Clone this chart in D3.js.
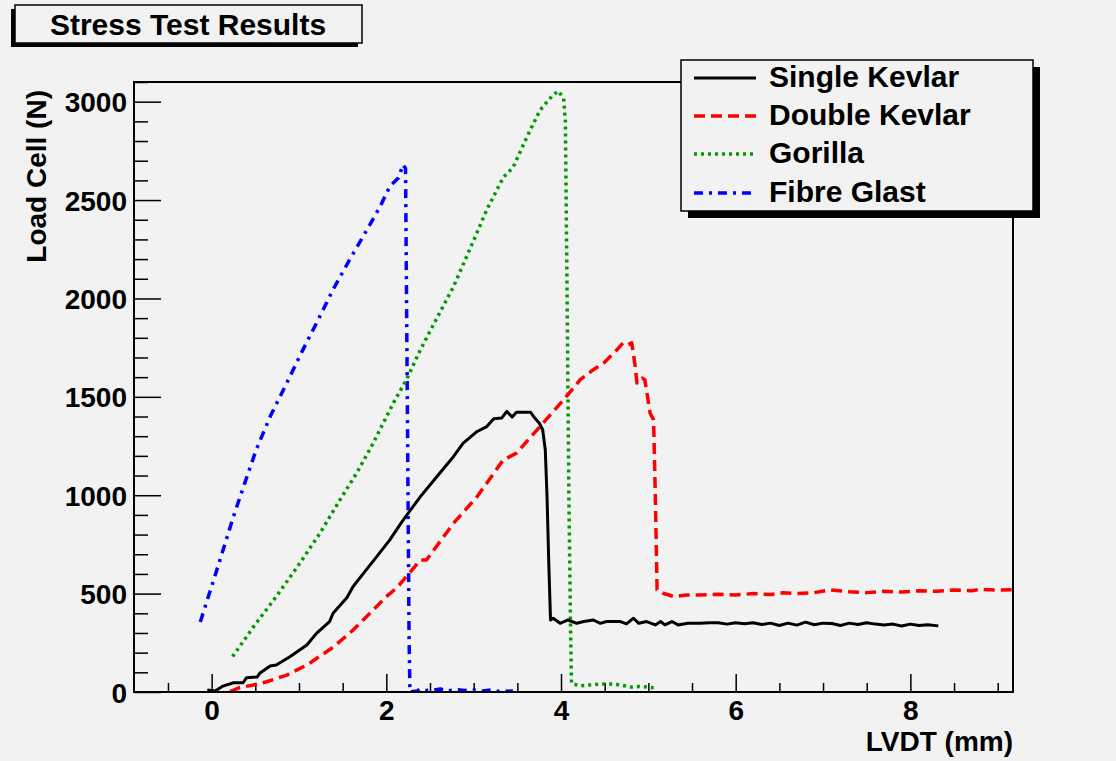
<!DOCTYPE html>
<html>
  <head>
    <meta charset="utf-8">
    <title>Stress Test Results</title>
    <script src="https://d3js.org/d3.v7.min.js"></script>
    <style>
      html, body { margin: 0; padding: 0; background: #f2f2f2; }
      svg { display: block; font-family: "Liberation Sans", Arial, sans-serif; font-weight: bold; }
    </style>
  </head>
  <body>
    <div id="chart"></div>

    <script>
      // Series values (LVDT in mm, load in N)
      const singleX = [-0.05, 0.04, 0.13, 0.25, 0.36, 0.40, 0.52, 0.55, 0.67, 0.74, 0.90, 1.09, 1.20, 1.35, 1.39,
        1.55, 1.62, 1.74, 1.89, 2.04, 2.18, 2.39, 2.58, 2.77, 2.88, 3.04, 3.15, 3.23, 3.32, 3.38, 3.44, 3.49,
        3.65, 3.70, 3.75, 3.79, 3.82, 3.84, 3.86, 3.88, 3.91, 3.99, 4.08, 4.18, 4.26, 4.37, 4.45, 4.52, 4.68,
        4.75, 4.83, 4.89, 4.98, 5.08, 5.14, 5.19, 5.27, 5.34, 5.45, 5.59, 5.7, 5.8, 5.9, 6.0, 6.1, 6.2, 6.3,
        6.4, 6.5, 6.6, 6.7, 6.8, 6.9, 7.0, 7.1, 7.2, 7.3, 7.4, 7.5, 7.6, 7.7, 7.8, 7.9, 8.0, 8.1, 8.2, 8.32];
      const singleY = [10, 5, 30, 47, 47, 73, 76, 95, 132, 137, 180, 239, 298, 358, 400,
        480, 536, 604, 688, 773, 866, 993, 1095, 1197, 1265, 1324, 1349, 1389, 1392, 1426, 1397, 1422,
        1422, 1392, 1367, 1333, 1231, 993, 655, 366, 375, 349, 366, 349, 358, 366, 349, 358, 358,
        346, 375, 349, 358, 341, 358, 341, 358, 341, 349, 349, 352, 352, 345, 352, 347, 352, 343,
        350, 338, 350, 340, 355, 342, 350, 348, 338, 350, 343, 352, 345, 340, 345, 335, 345, 338, 342, 336];

      const doubleX = [0.21, 0.32, 0.48, 0.63, 0.86, 1.09, 1.39, 1.62, 1.85, 2.0, 2.12, 2.23, 2.39, 2.46, 2.77,
        3.04, 3.34, 3.49, 3.76, 4.03, 4.22, 4.37, 4.49, 4.64, 4.71, 4.77, 4.81, 4.85, 4.87, 4.93, 4.96, 5.02,
        5.06, 5.08, 5.10, 5.17, 5.29, 5.44, 5.59, 5.8, 6.0, 6.2, 6.4, 6.54, 6.7, 6.9, 7.08, 7.3, 7.5, 7.7,
        7.9, 8.1, 8.3, 8.5, 8.7, 8.8, 9.0, 9.17];
      const doubleY = [2, 22, 36, 52, 86, 137, 227, 315, 417, 485, 530, 586, 671, 671, 858,
        993, 1180, 1214, 1349, 1485, 1587, 1638, 1672, 1739, 1774, 1765, 1774, 1654, 1570, 1595, 1587, 1417,
        1383, 993, 519, 502, 485, 493, 493, 497, 493, 500, 495, 504, 500, 505, 519, 510, 505, 512,
        508, 515, 512, 518, 515, 522, 518, 520];

      const gorillaX = [0.24, 0.48, 0.74, 1.01, 1.24, 1.47, 1.66, 1.85, 2.08, 2.23, 2.39, 2.54, 2.77, 3.00, 3.15,
        3.34, 3.45, 3.61, 3.76, 3.91, 3.97, 4.03, 4.05, 4.07, 4.09, 4.11, 4.12, 4.22, 4.33, 4.45, 4.56, 4.68,
        4.80, 4.90, 5.06];
      const gorillaY = [180, 332, 485, 655, 807, 977, 1112, 1265, 1468, 1587, 1739, 1867, 2061, 2295, 2451,
        2616, 2665, 2821, 2957, 3035, 3054, 3016, 2900, 2000, 1000, 300, 44, 31, 36, 41, 41, 36,
        25, 28, 22];

      const glastX = [-0.13, 0.09, 0.25, 0.38, 0.51, 0.67, 0.86, 1.03, 1.21, 1.39, 1.58, 1.79, 1.93, 2.04, 2.14,
        2.19, 2.22, 2.24, 2.26, 2.27, 2.35, 2.39, 2.45, 2.55, 2.62, 2.70, 2.80, 2.90, 3.00, 3.10, 3.20, 3.30, 3.45];
      const glastY = [356, 663, 892, 1063, 1231, 1400, 1570, 1726, 1883, 2045, 2197, 2358, 2468, 2570, 2613,
        2680, 2660, 1500, 300, 0, 5, 15, 8, 10, 15, 5, 12, 8, 10, 5, 10, 3, 5];

      const seriesNames = ['Single Kevlar', 'Double Kevlar', 'Gorilla', 'Fibre Glast'];
      const xMajorTicks = [0, 2, 4, 6, 8];
      const yMajorTicks = [0, 500, 1000, 1500, 2000, 2500, 3000];

      const W = 1116, H = 761;
      const frame = { left: 134, top: 82, right: 1013, bottom: 692 };

      const x = d3.scaleLinear().domain([-0.889, 9.175]).range([frame.left, frame.right]);
      const y = d3.scaleLinear().domain([0, 3100]).range([frame.bottom, frame.top]);

      const svg = d3.select('#chart').append('svg')
        .attr('width', W)
        .attr('height', H);

      svg.append('rect').attr('width', W).attr('height', H).attr('fill', '#f2f2f2');

      svg.append('clipPath').attr('id', 'plotclip')
        .append('rect')
        .attr('x', frame.left).attr('y', frame.top)
        .attr('width', frame.right - frame.left).attr('height', frame.bottom - frame.top);

      // Axes (ROOT style: ticks point into the frame)
      const xMinor = d3.range(-0.5, 9.01, 0.5).filter(v => !xMajorTicks.includes(v));
      const yMinor = d3.range(0, 3101, 100).filter(v => !yMajorTicks.includes(v));

      function styleAxis(g) {
        g.select('.domain').remove();
        g.selectAll('line').attr('stroke', '#000').attr('stroke-width', 1.5);
        g.selectAll('text').attr('fill', '#000').attr('font-size', 28).attr('font-weight', 'bold');
      }

      svg.append('g')
        .attr('transform', `translate(0,${frame.bottom})`)
        .call(d3.axisBottom(x).tickValues(xMinor).tickSize(-9).tickFormat(''))
        .call(styleAxis);
      svg.append('g')
        .attr('transform', `translate(0,${frame.bottom})`)
        .call(d3.axisBottom(x).tickValues(xMajorTicks).tickSize(-18).tickPadding(8).tickFormat(d3.format('d')))
        .call(styleAxis)
        .selectAll('text').attr('dy', '0.71em');

      svg.append('g')
        .attr('transform', `translate(${frame.left},0)`)
        .call(d3.axisLeft(y).tickValues(yMinor).tickSize(-14).tickFormat(''))
        .call(styleAxis);
      svg.append('g')
        .attr('transform', `translate(${frame.left},0)`)
        .call(d3.axisLeft(y).tickValues(yMajorTicks).tickSize(-27).tickPadding(7).tickFormat(d3.format('d')))
        .call(styleAxis)
        .selectAll('text').attr('dy', '0.36em');

      // Curves
      const series = [
        { name: seriesNames[0], xs: singleX, ys: singleY, color: '#000000', dash: null, width: 3 },
        { name: seriesNames[1], xs: doubleX, ys: doubleY, color: '#ff0000', dash: '11,6', width: 3.5 },
        { name: seriesNames[2], xs: gorillaX, ys: gorillaY, color: '#009900', dash: '3,4', width: 3.5 },
        { name: seriesNames[3], xs: glastX, ys: glastY, color: '#0000ff', dash: '9,6,3,6', width: 3.5 }
      ];

      const line = d3.line().x(d => x(d[0])).y(d => y(d[1]));

      svg.append('g').attr('clip-path', 'url(#plotclip)')
        .selectAll('path')
        .data(series.slice().reverse())
        .enter()
        .append('path')
        .attr('d', s => line(d3.zip(s.xs, s.ys)))
        .attr('fill', 'none')
        .attr('stroke', s => s.color)
        .attr('stroke-width', s => s.width)
        .attr('stroke-dasharray', s => s.dash)
        .attr('stroke-linejoin', 'round');

      // Frame
      svg.append('rect')
        .attr('x', frame.left).attr('y', frame.top)
        .attr('width', frame.right - frame.left).attr('height', frame.bottom - frame.top)
        .attr('fill', 'none').attr('stroke', '#000').attr('stroke-width', 2);

      // Axis titles
      svg.append('text')
        .attr('x', frame.right).attr('y', 751)
        .attr('text-anchor', 'end')
        .attr('font-size', 28)
        .text('LVDT (mm)');
      svg.append('text')
        .attr('transform', 'translate(46,90) rotate(-90)')
        .attr('text-anchor', 'end')
        .attr('font-size', 28)
        .text('Load Cell (N)');

      // Title box with shadow
      const title = svg.append('g');
      title.append('rect').attr('x', 11).attr('y', 9).attr('width', 347).attr('height', 38).attr('fill', '#000');
      title.append('rect').attr('x', 15).attr('y', 5).attr('width', 347).attr('height', 38)
        .attr('fill', '#f2f2f2').attr('stroke', '#000').attr('stroke-width', 1.5);
      title.append('text')
        .attr('x', 188).attr('y', 35)
        .attr('text-anchor', 'middle')
        .attr('font-size', 30)
        .text('Stress Test Results');

      // Legend with shadow
      const lg = { x: 681, y: 60, w: 352, h: 151 };
      const legend = svg.append('g');
      legend.append('rect').attr('x', lg.x + 7).attr('y', lg.y + 7).attr('width', lg.w).attr('height', lg.h).attr('fill', '#000');
      legend.append('rect').attr('x', lg.x).attr('y', lg.y).attr('width', lg.w).attr('height', lg.h)
        .attr('fill', '#f2f2f2').attr('stroke', '#000').attr('stroke-width', 1.5);

      const rowY = [78, 116, 154, 193];
      const entries = legend.selectAll('g.entry')
        .data(series)
        .enter()
        .append('g')
        .attr('class', 'entry')
        .attr('transform', (d, i) => `translate(0,${rowY[i]})`);
      entries.append('line')
        .attr('x1', 694).attr('x2', 756)
        .attr('stroke', d => d.color)
        .attr('stroke-width', d => d.width)
        .attr('stroke-dasharray', d => d.dash);
      entries.append('text')
        .attr('x', 769).attr('y', 9)
        .attr('font-size', 30)
        .text(d => d.name);
    </script>
  </body>
</html>
